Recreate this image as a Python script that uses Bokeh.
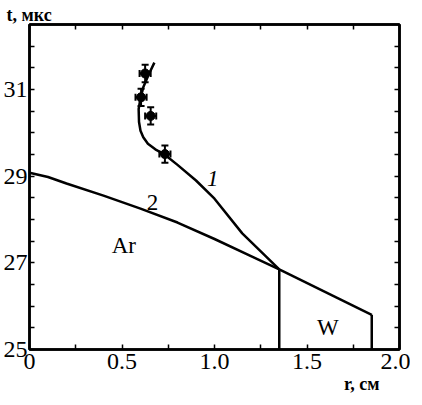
from bokeh.plotting import figure
from bokeh.models import Range1d, LinearAxis, FixedTicker, Label, Title
from bokeh.embed import file_html
from bokeh.resources import INLINE

# curve 1 (r, t)
r1 = [0.675, 0.645, 0.615, 0.600, 0.590, 0.592, 0.600, 0.615, 0.640, 0.68, 0.73, 0.80, 0.90, 1.00, 1.15, 1.35]
t1 = [31.62, 31.35, 31.05, 30.80, 30.55, 30.25, 30.05, 29.90, 29.75, 29.62, 29.50, 29.26, 28.90, 28.48, 27.68, 26.85]
# curve 2 (Ar boundary)
r2 = [0.0, 0.1, 0.2, 0.4, 0.6, 0.8, 1.0, 1.2, 1.35]
t2 = [29.08, 28.98, 28.83, 28.55, 28.25, 27.93, 27.55, 27.15, 26.85]
# W boundary
rw = [1.35, 1.85]
tw = [26.85, 25.80]
# measured points with errors
rp = [0.625, 0.603, 0.655, 0.732]
tp = [31.37, 30.82, 30.39, 29.51]
rerr = [0.03, 0.03, 0.03, 0.03]
terr = [0.2, 0.2, 0.2, 0.2]

xticks = [0, 0.5, 1.0, 1.5, 2.0]
xminor = [0.25, 0.75, 1.25, 1.75]
yticks = [25, 27, 29, 31]
yminor = [25.5, 26, 26.5, 27.5, 28, 28.5, 29.5, 30, 30.5, 31.5, 32]

FONT = "Liberation Serif"

p = figure(width=410, height=400, output_backend="svg", toolbar_location=None,
           x_range=Range1d(0, 2.0), y_range=Range1d(25, 32.5),
           x_axis_location=None, y_axis_location=None)
p.min_border_left = 22
p.min_border_right = 11
p.min_border_top = 24
p.min_border_bottom = 51
p.xgrid.visible = False
p.ygrid.visible = False
p.outline_line_color = "black"
p.outline_line_width = 2.5
p.background_fill_color = "white"
p.border_fill_color = "white"


def style(ax, labels):
    ax.axis_line_color = "black"
    ax.axis_line_width = 2.5
    ax.major_tick_in = 5
    ax.major_tick_out = 0
    ax.minor_tick_in = 5
    ax.minor_tick_out = 0
    ax.major_tick_line_width = 1.5
    ax.minor_tick_line_width = 1.5
    ax.major_label_text_font = FONT
    ax.major_label_text_font_size = "24px"
    ax.major_label_text_color = "black"
    ax.major_label_standoff = 3
    if not labels:
        ax.major_label_text_font_size = "0px"
        ax.major_label_text_color = None


xt = FixedTicker(ticks=xticks, minor_ticks=xminor)
yt = FixedTicker(ticks=yticks, minor_ticks=yminor)

bx = LinearAxis(ticker=xt, major_label_overrides={0: "0", 1: "1.0", 2: "2.0"})
style(bx, True)
bx.major_label_standoff = 4
p.add_layout(bx, "below")
tx = LinearAxis(ticker=xt)
style(tx, False)
p.add_layout(tx, "above")
ly = LinearAxis(ticker=yt)
style(ly, True)
ly.major_label_standoff = 2
p.add_layout(ly, "left")
ry = LinearAxis(ticker=yt)
style(ry, False)
p.add_layout(ry, "right")

# axis titles
p.add_layout(Title(text="t, мкс", align="left", offset=-23, standoff=0,
                   text_font=FONT, text_font_style="bold", text_font_size="18px",
                   text_color="black"), "above")
p.add_layout(Title(text="r, см", align="right", offset=20, standoff=0,
                   text_font=FONT, text_font_style="bold", text_font_size="18px",
                   text_color="black"), "below")

p.line(r1, t1, line_color="black", line_width=2.5)
p.line(r2, t2, line_color="black", line_width=2.5)
p.line(rw, tw, line_color="black", line_width=2.5)
p.segment(x0=[rw[0], rw[1]], y0=[tw[0], tw[1]], x1=[rw[0], rw[1]], y1=[25, 25],
          line_color="black", line_width=2.5)

# error bars
p.segment(x0=[r - e for r, e in zip(rp, rerr)], y0=tp,
          x1=[r + e for r, e in zip(rp, rerr)], y1=tp, line_color="black", line_width=2)
p.segment(x0=rp, y0=[t - e for t, e in zip(tp, terr)],
          x1=rp, y1=[t + e for t, e in zip(tp, terr)], line_color="black", line_width=2)
p.scatter(x=[r - e for r, e in zip(rp, rerr)], y=tp, marker="dash", angle=1.5708,
          size=7, line_color="black", line_width=2)
p.scatter(x=[r + e for r, e in zip(rp, rerr)], y=tp, marker="dash", angle=1.5708,
          size=7, line_color="black", line_width=2)
p.scatter(x=rp, y=[t - e for t, e in zip(tp, terr)], marker="dash",
          size=7, line_color="black", line_width=2)
p.scatter(x=rp, y=[t + e for t, e in zip(tp, terr)], marker="dash",
          size=7, line_color="black", line_width=2)
p.scatter(x=rp, y=tp, marker="circle", size=9, fill_color="black", line_color="black")

# in-plot labels
for x, y, txt, st in [(0.99, 28.94, "1", "italic"), (0.665, 28.40, "2", "normal"),
                      (0.51, 27.40, "Ar", "normal"), (1.613, 25.51, "W", "normal")]:
    p.add_layout(Label(x=x, y=y, text=txt, text_font=FONT, text_font_style=st,
                       text_font_size="23px", text_color="black",
                       text_align="center", text_baseline="middle"))

open("out.html", "w").write(file_html(p, INLINE))
